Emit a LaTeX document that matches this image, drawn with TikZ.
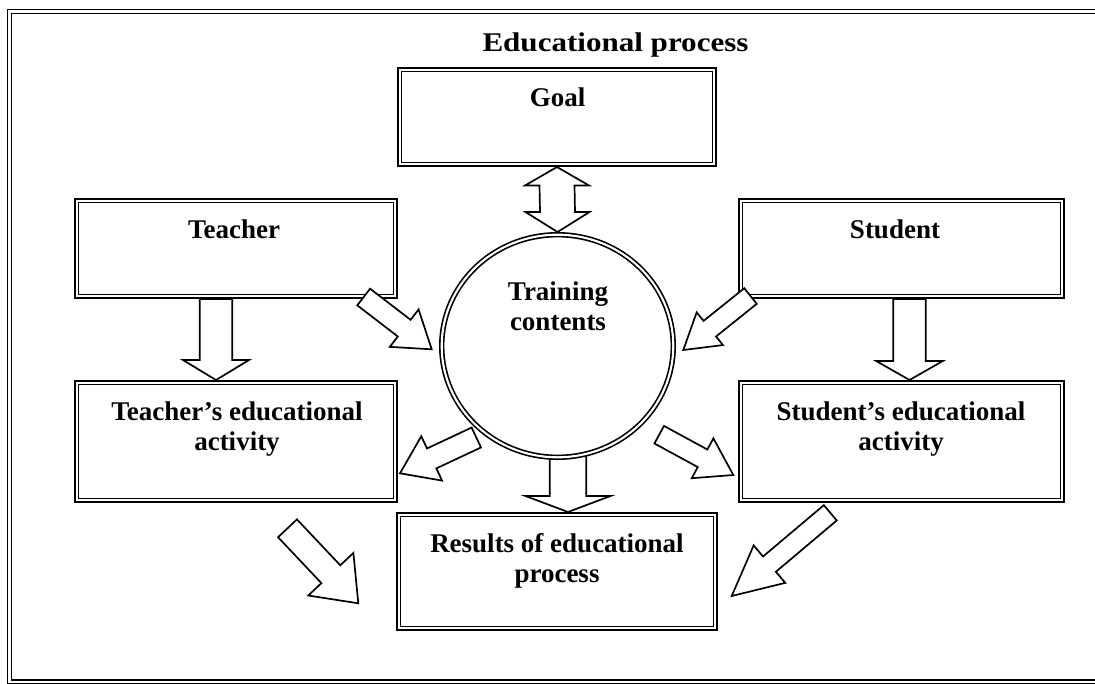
\documentclass[tikz,border=0pt]{standalone}
\usepackage{fontspec}
\usepackage{graphicx}
\setmainfont{Liberation Serif}
\usetikzlibrary{calc,shapes.geometric}

% hollow block arrow: tail, tip, shaft half-width, head half-width, head length
\newcommand{\blockarrow}[5]{%
  \path ($(#2)!#5!(#1)$) coordinate (ba-neck);
  \draw[blockarr] ($(#1)!#3!90:(#2)$) -- ($(ba-neck)!#3!90:(#2)$)
    -- ($(ba-neck)!#4!90:(#2)$) -- (#2) -- ($(ba-neck)!#4!-90:(#2)$)
    -- ($(ba-neck)!#3!-90:(#2)$) -- ($(#1)!#3!-90:(#2)$) -- cycle;}

\tikzset{
  dbl/.style={draw, double, double distance=2.1pt, line width=1.65pt},
  box/.style={dbl, rectangle, inner sep=0pt, outer sep=2.7pt, fill=white},
  ring/.style={dbl, ellipse, inner sep=0pt, outer sep=2.7pt, fill=white},
  lbl/.style={anchor=base, inner sep=0pt, font=\bfseries\fontsize{27}{30.5}\selectfont},
  blockarr/.style={draw, fill=white, line width=1.7pt, line join=miter},
}

\begin{document}
\begin{tikzpicture}[x=1pt,y=-1pt]
\useasboundingbox (0,0) rectangle (1095,683);
\clip (0,0) rectangle (1095,683);

% outer frame
\draw[dbl] (9.5,11.5) rectangle (1110,682);

% title
\node[lbl] (title) at (615.5,51) {\scalebox{1.15}[1]{Educational process}};

% boxes
\node[box, minimum width=314.6pt, minimum height=94.6pt] (goal) at (557,117) {};
\node[box, minimum width=318.6pt, minimum height=95.6pt] (teacher) at (236,248.5) {};
\node[box, minimum width=321.6pt, minimum height=95.6pt] (student) at (901.5,248.5) {};
\node[box, minimum width=318.6pt, minimum height=117.6pt] (tact) at (236,441.5) {};
\node[box, minimum width=321.6pt, minimum height=117.6pt] (sact) at (901.5,441.5) {};
\node[box, minimum width=316.6pt, minimum height=113.6pt] (results) at (557,571.5) {};

% arrow from the ring down to the results (its tail hides under the ring)
\coordinate (a8t) at (568,440);
\coordinate (a8h) at ([xshift=11pt]results.north);
\blockarrow{a8t}{a8h}{18.3pt}{42.5pt}{16pt}

% central ring
\node[ring, minimum width=231.6pt, minimum height=222.6pt] (circ) at (557.5,346) {};

% labels
\node[lbl] (goal-t) at (557.5,106) {Goal};
\node[lbl] (teacher-t) at (234,238) {Teacher};
\node[lbl] (student-t) at (895,238) {Student};
\node[lbl] (tact-t) at (237,420) {\begin{tabular}[t]{@{}c@{}}Teacher’s educational\\activity\end{tabular}};
\node[lbl] (sact-t) at (901,420) {\begin{tabular}[t]{@{}c@{}}Student’s educational\\activity\end{tabular}};
\node[lbl] (results-t) at (557,552) {\begin{tabular}[t]{@{}c@{}}Results of educational\\process\end{tabular}};
\node[lbl] (circ-t) at (558,300) {\begin{tabular}[t]{@{}c@{}}Training\\contents\end{tabular}};

% two-headed arrow between goal and ring
\coordinate (gt) at (goal.south);
\coordinate (gb) at (circ.north);
\draw[blockarr] (gt) -- ($(gt)+(32,18.5)$) -- ($(gt)+(17.5,18.5)$)
  -- ($(gb)+(17.5,-20)$) -- ($(gb)+(32,-20)$) -- (gb)
  -- ($(gb)+(-32,-20)$) -- ($(gb)+(-17.5,-20)$)
  -- ($(gt)+(-17.5,18.5)$) -- ($(gt)+(-32,18.5)$) -- cycle;

% teacher -> teacher's activity, student -> student's activity
\coordinate (a2t) at ([xshift=-20pt]teacher.south);
\coordinate (a2h) at ([xshift=-20pt]tact.north);
\blockarrow{a2t}{a2h}{16.2pt}{33pt}{20pt}
\coordinate (a3t) at ([xshift=8pt]student.south);
\coordinate (a3h) at ([xshift=8pt]sact.north);
\blockarrow{a3t}{a3h}{16.3pt}{33.3pt}{19pt}

% teacher -> ring, student -> ring
\coordinate (a4t) at (363.7,297);
\coordinate (a4h) at (431.7,349.3);
\blockarrow{a4t}{a4h}{10.5pt}{23.6pt}{34.7pt}
\coordinate (a5t) at (750.5,296);
\coordinate (a5h) at (683.3,350);
\blockarrow{a5t}{a5h}{10pt}{21pt}{34pt}

% ring -> both activities
\coordinate (a6t) at (476.3,437.5);
\coordinate (a6h) at (400,473.3);
\blockarrow{a6t}{a6h}{11pt}{24.5pt}{35pt}
\coordinate (a7t) at (659.2,434.7);
\coordinate (a7h) at (733.3,475);
\blockarrow{a7t}{a7h}{10pt}{22.7pt}{35pt}

% activities -> results
\coordinate (a9t) at (287.5,528.3);
\coordinate (a9h) at (358.3,603.3);
\blockarrow{a9t}{a9h}{13pt}{31pt}{40pt}
\coordinate (a10t) at (830.3,512.8);
\coordinate (a10h) at (731.7,596);
\blockarrow{a10t}{a10h}{10pt}{24.5pt}{49.4pt}
\end{tikzpicture}
\end{document}
